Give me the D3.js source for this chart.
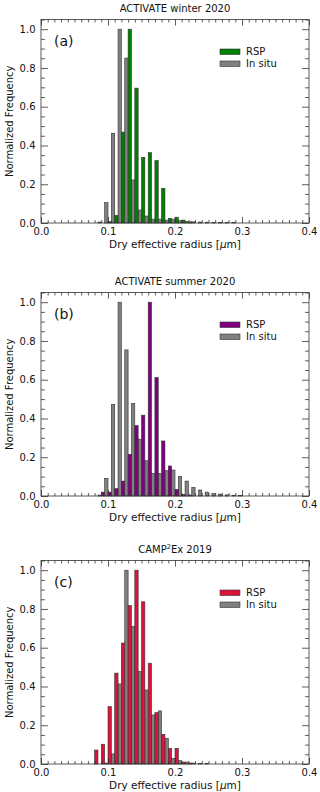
<!DOCTYPE html>
<html><head><meta charset="utf-8">
<script src="https://cdn.jsdelivr.net/npm/d3@7"></script>
<style>body{margin:0;background:#fff}svg{display:block}</style>
</head><body><svg id="c" width="320" height="792"></svg>
<script>
// bin centres (µm)
const binCenters   = [0.08,0.09,0.10,0.11,0.12,0.13,0.14,0.15,0.16,0.17,0.18,0.19,0.20,0.21,0.22,0.23,0.24,0.25,0.26,0.27,0.28,0.29,0.30];
// (a) ACTIVATE winter 2020
const winterRSP    = [0,0,0.008,0.04,0.469,1.0,0.696,0.339,0.363,0.322,0.179,0.024,0.03,0.015,0.006,0,0,0,0,0,0,0,0];
const winterInsitu = [0,0.005,0.105,0.463,1.0,0.851,0.222,0.067,0.036,0.02,0.02,0.015,0.02,0.012,0.008,0.006,0.005,0.004,0.003,0.003,0.002,0.002,0];
// (b) ACTIVATE summer 2020
const summerRSP    = [0,0.02,0.02,0.038,0.077,0.215,0.363,0.417,1.0,0.611,0.284,0.155,0.034,0.008,0.005,0,0,0,0,0,0,0,0];
const summerInsitu = [0,0.005,0.091,0.473,1.0,0.754,0.478,0.293,0.182,0.117,0.117,0.131,0.134,0.1,0.077,0.045,0.031,0.02,0.012,0.01,0.006,0.004,0.003];
// (c) CAMP2Ex 2019
const campRSP      = [0.072,0.102,0.296,0.469,0.624,0.817,1.0,0.837,0.52,0.265,0.153,0.081,0.081,0.01,0.005,0,0,0,0,0,0,0,0];
const campInsitu   = [0,0,0.005,0.052,0.413,1.0,0.71,0.477,0.382,0.253,0.274,0.133,0.029,0.017,0.01,0.005,0.003,0.002,0,0,0,0,0];
// axis ticks
const xTicks = [0.0,0.1,0.2,0.3,0.4];
const yTicks = [0.0,0.2,0.4,0.6,0.8,1.0];
const seriesNames = ["RSP","In situ"];

const panels = [
  {title:["ACTIVATE winter 2020"], label:"(a)", rsp:winterRSP, insitu:winterInsitu, color:"#008000", top:19.5},
  {title:["ACTIVATE summer 2020"], label:"(b)", rsp:summerRSP, insitu:summerInsitu, color:"#800080", top:292.5},
  {title:["CAMP","2","Ex 2019"], label:"(c)", rsp:campRSP, insitu:campInsitu, color:"#DC143C", top:560.5}
];
const insituColor = "#808080";
const L = 41, R = 309, H = 203.5;
const FONT = "DejaVu Sans, sans-serif";
const halfBin = 0.005;

const svg = d3.select("#c");
const x = d3.scaleLinear().domain([0,0.4]).range([L,R]);
const xMinor = d3.range(0,0.4001,0.01).map(v=>+v.toFixed(2)).filter(v=>!xTicks.some(t=>Math.abs(t-v)<1e-9));
const yMinor = d3.range(0,1.0501,0.05).map(v=>+v.toFixed(2)).filter(v=>!yTicks.some(t=>Math.abs(t-v)<1e-9));

panels.forEach(p=>{
  const top = p.top, bot = top + H;
  const y = d3.scaleLinear().domain([0,1.05]).range([bot, top]);
  const g = svg.append("g");

  // bars: in situ on left half of bin, RSP on right half
  const rows = binCenters.map((c,i)=>({c, rsp:p.rsp[i], ins:p.insitu[i]}));
  g.selectAll("rect.ins").data(rows.filter(d=>d.ins>0)).join("rect")
    .attr("x", d=>x(d.c-halfBin)).attr("width", d=>x(d.c)-x(d.c-halfBin))
    .attr("y", d=>y(d.ins)).attr("height", d=>y(0)-y(d.ins))
    .attr("fill", insituColor).attr("stroke","#333").attr("stroke-width",0.6);
  g.selectAll("rect.rsp").data(rows.filter(d=>d.rsp>0)).join("rect")
    .attr("x", d=>x(d.c)).attr("width", d=>x(d.c+halfBin)-x(d.c))
    .attr("y", d=>y(d.rsp)).attr("height", d=>y(0)-y(d.rsp))
    .attr("fill", p.color).attr("stroke","#333").attr("stroke-width",0.6);

  const fmt = d3.format(".1f");
  const style = sel => { sel.select(".domain").remove();
    sel.selectAll("line").attr("stroke","#333").attr("stroke-width",0.8);
    sel.selectAll("text").attr("font-family",FONT).attr("font-size",10).attr("fill","#111"); };

  g.append("g").attr("transform",`translate(0,${bot})`)
    .call(d3.axisBottom(x).tickValues(xTicks).tickFormat(fmt).tickSizeInner(-6).tickSizeOuter(0).tickPadding(5)).call(style);
  g.append("g").attr("transform",`translate(0,${bot})`)
    .call(d3.axisBottom(x).tickValues(xMinor).tickFormat("").tickSizeInner(-3).tickSizeOuter(0)).call(style);
  g.append("g").attr("transform",`translate(0,${top})`)
    .call(d3.axisTop(x).tickValues(xTicks).tickFormat("").tickSizeInner(-6).tickSizeOuter(0)).call(style);
  g.append("g").attr("transform",`translate(0,${top})`)
    .call(d3.axisTop(x).tickValues(xMinor).tickFormat("").tickSizeInner(-3).tickSizeOuter(0)).call(style);
  g.append("g").attr("transform",`translate(${L},0)`)
    .call(d3.axisLeft(y).tickValues(yTicks).tickFormat(fmt).tickSizeInner(-7).tickSizeOuter(0).tickPadding(5.5)).call(style);
  g.append("g").attr("transform",`translate(${L},0)`)
    .call(d3.axisLeft(y).tickValues(yMinor).tickFormat("").tickSizeInner(-4).tickSizeOuter(0)).call(style);
  g.append("g").attr("transform",`translate(${R},0)`)
    .call(d3.axisRight(y).tickValues(yTicks).tickFormat("").tickSizeInner(-7).tickSizeOuter(0)).call(style);
  g.append("g").attr("transform",`translate(${R},0)`)
    .call(d3.axisRight(y).tickValues(yMinor).tickFormat("").tickSizeInner(-4).tickSizeOuter(0)).call(style);

  g.append("rect").attr("x",L).attr("y",top).attr("width",R-L).attr("height",H)
    .attr("fill","none").attr("stroke","#333").attr("stroke-width",0.8);

  // title
  const t = g.append("text").attr("x",(L+R)/2).attr("y",top-8).attr("text-anchor","middle")
    .attr("font-family",FONT).attr("font-size",10).attr("fill","#111");
  if (p.title.length===1) t.text(p.title[0]);
  else {
    t.append("tspan").text(p.title[0]);
    t.append("tspan").attr("font-size",6.5).attr("dy",-4).text(p.title[1]);
    t.append("tspan").attr("dy",4).text(p.title[2]);
  }
  // panel label
  g.append("text").attr("x",54).attr("y",top+26).attr("font-family",FONT).attr("font-size",14).attr("fill","#111").text(p.label);
  // x label
  const xl = g.append("text").attr("x",(L+R)/2).attr("y",bot+24.5).attr("text-anchor","middle")
    .attr("font-family",FONT).attr("font-size",10.5).attr("fill","#111");
  xl.append("tspan").text("Dry effective radius [");
  xl.append("tspan").attr("font-style","italic").text("μ");
  xl.append("tspan").text("m]");
  // y label
  g.append("text").attr("transform",`translate(13,${(top+bot)/2}) rotate(-90)`).attr("text-anchor","middle")
    .attr("font-family",FONT).attr("font-size",10).attr("fill","#111").text("Normalized Frequency");
  // legend
  const cols = [p.color, insituColor];
  seriesNames.forEach((n,i)=>{
    g.append("rect").attr("x",220).attr("y",top+29.5+12*i).attr("width",20).attr("height",5.5)
      .attr("fill",cols[i]).attr("stroke","#333").attr("stroke-width",0.6);
    g.append("text").attr("x",246).attr("y",top+32.3+12*i).attr("dy","0.35em")
      .attr("font-family",FONT).attr("font-size",10).attr("fill","#111").text(n);
  });
});
</script></body></html>
